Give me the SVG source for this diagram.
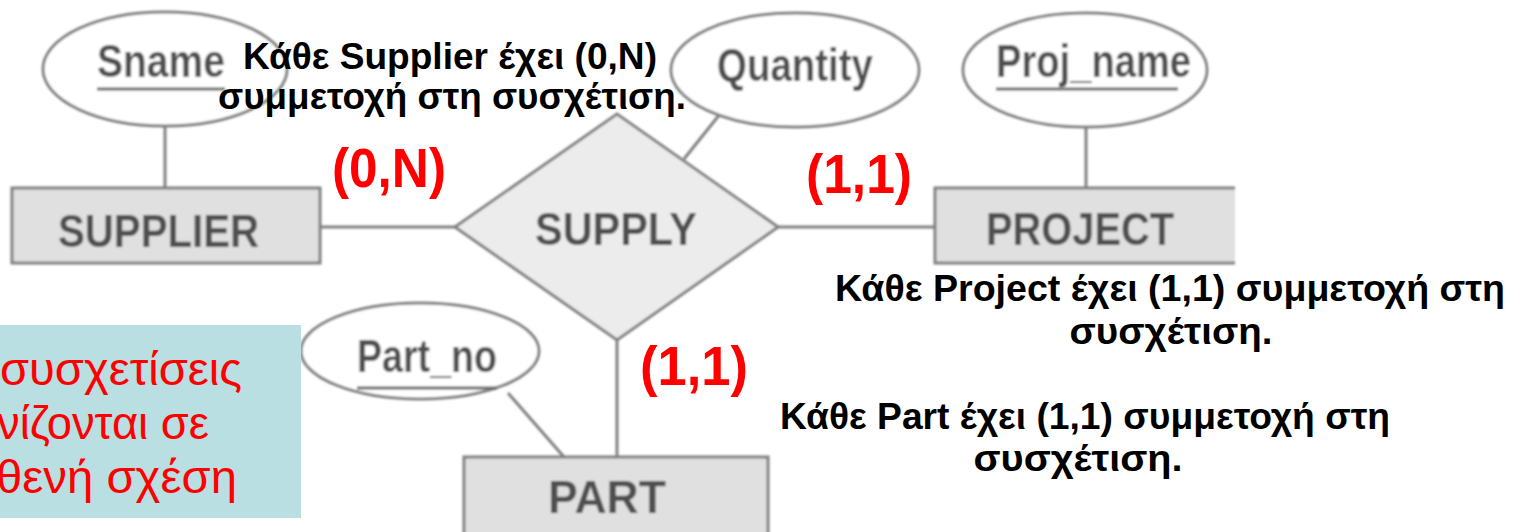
<svg xmlns="http://www.w3.org/2000/svg" width="1523" height="532" viewBox="0 0 1523 532">
  <defs>
    <filter id="soft" x="-5%" y="-5%" width="110%" height="110%">
      <feGaussianBlur stdDeviation="0.8"/>
    </filter>
    <style>
      .shape { stroke: #808080; stroke-width: 3; }
      .attr { fill: #ffffff; }
      .ent { fill: #e0e0e0; }
      .rel { fill: #ececec; }
      .conn { stroke: #808080; stroke-width: 3; fill: none; }
      .er { font-family: "Liberation Sans", Arial, sans-serif; font-size: 47px; font-weight: bold; fill: #505050; }
      .ul { stroke: #666666; stroke-width: 3; }
      .note { font-family: "Liberation Sans", Arial, sans-serif; font-size: 37px; font-weight: bold; fill: #000000; text-anchor: middle; }
      .card { font-family: "Liberation Sans", Arial, sans-serif; font-size: 56px; font-weight: bold; fill: #ff0000; }
      .side { font-family: "Liberation Sans", Arial, sans-serif; font-size: 46px; fill: #ff0000; }
    </style>
  </defs>
  <rect width="1523" height="532" fill="#ffffff"/>

  <g filter="url(#soft)">
    <g id="connectors">
      <line class="conn" x1="165" y1="126" x2="165" y2="188"/>
      <line class="conn" x1="320" y1="227" x2="455" y2="227"/>
      <line class="conn" x1="778" y1="227" x2="935" y2="227"/>
      <line class="conn" x1="720" y1="114" x2="684" y2="159"/>
      <line class="conn" x1="1086" y1="127" x2="1086" y2="188"/>
      <line class="conn" x1="508" y1="393" x2="564" y2="457"/>
      <line class="conn" x1="617" y1="340" x2="617" y2="457"/>
    </g>

    <g id="sname">
      <ellipse class="shape attr" cx="165" cy="69" rx="122" ry="57"/>
      <text class="er" x="97" y="77" textLength="128" lengthAdjust="spacingAndGlyphs">Sname</text>
      <line class="ul" x1="97" y1="89" x2="225" y2="89"/>
    </g>

    <g id="quantity">
      <ellipse class="shape attr" cx="795" cy="70" rx="124" ry="57"/>
      <text class="er" x="717" y="81" textLength="156" lengthAdjust="spacingAndGlyphs">Quantity</text>
    </g>

    <g id="proj_name">
      <ellipse class="shape attr" cx="1085" cy="70" rx="122" ry="57"/>
      <text class="er" x="996" y="77" textLength="195" lengthAdjust="spacingAndGlyphs">Proj_name</text>
      <line class="ul" x1="996" y1="89" x2="1178" y2="89"/>
    </g>

    <g id="supplier">
      <rect class="shape ent" x="12" y="188" width="308" height="75"/>
      <text class="er" x="58" y="247" textLength="201" lengthAdjust="spacingAndGlyphs">SUPPLIER</text>
    </g>

    <g id="supply">
      <polygon class="shape rel" points="455,227 617,114 778,227 617,340"/>
      <text class="er" x="535" y="245" textLength="162" lengthAdjust="spacingAndGlyphs">SUPPLY</text>
    </g>

    <g id="project">
      <rect class="ent" x="935" y="188" width="300" height="75"/>
      <path class="shape" fill="none" d="M1235,188 H935 V263 H1235"/>
      <text class="er" x="986" y="245" textLength="188" lengthAdjust="spacingAndGlyphs">PROJECT</text>
    </g>

    <g id="part_no">
      <ellipse class="shape attr" cx="420" cy="351" rx="119" ry="48"/>
      <text class="er" x="357" y="372" textLength="140" lengthAdjust="spacingAndGlyphs">Part_no</text>
      <line class="ul" x1="357" y1="388" x2="497" y2="388"/>
    </g>

    <g id="part">
      <rect class="shape ent" x="464" y="457" width="304" height="90"/>
      <text class="er" x="548" y="513" textLength="118" lengthAdjust="spacingAndGlyphs">PART</text>
    </g>
  </g>

  <g id="note-box">
    <rect x="0" y="325" width="301" height="193" fill="#b9dfe2"/>
    <text class="side" x="0" y="385" textLength="242" lengthAdjust="spacingAndGlyphs">συσχετίσεις</text>
    <text class="side" x="-3" y="439" textLength="212" lengthAdjust="spacingAndGlyphs">νίζονται σε</text>
    <text class="side" x="-4" y="493" textLength="241" lengthAdjust="spacingAndGlyphs">θενή σχέση</text>
  </g>

  <g id="cardinalities">
    <text class="card" x="332" y="187" textLength="114" lengthAdjust="spacingAndGlyphs">(0,N)</text>
    <text class="card" x="806" y="193" textLength="106" lengthAdjust="spacingAndGlyphs">(1,1)</text>
    <text class="card" x="640" y="385" textLength="108" lengthAdjust="spacingAndGlyphs">(1,1)</text>
  </g>

  <g id="notes">
    <text class="note" x="450" y="69" textLength="414" lengthAdjust="spacingAndGlyphs">Κάθε Supplier έχει (0,N)</text>
    <text class="note" x="452" y="109" textLength="468" lengthAdjust="spacingAndGlyphs">συμμετοχή στη συσχέτιση.</text>
    <text class="note" x="1170" y="301" textLength="670" lengthAdjust="spacingAndGlyphs">Κάθε Project έχει (1,1) συμμετοχή στη</text>
    <text class="note" x="1171" y="344" textLength="203" lengthAdjust="spacingAndGlyphs">συσχέτιση.</text>
    <text class="note" x="1085" y="429" textLength="610" lengthAdjust="spacingAndGlyphs">Κάθε Part έχει (1,1) συμμετοχή στη</text>
    <text class="note" x="1078" y="471" textLength="209" lengthAdjust="spacingAndGlyphs">συσχέτιση.</text>
  </g>
</svg>
